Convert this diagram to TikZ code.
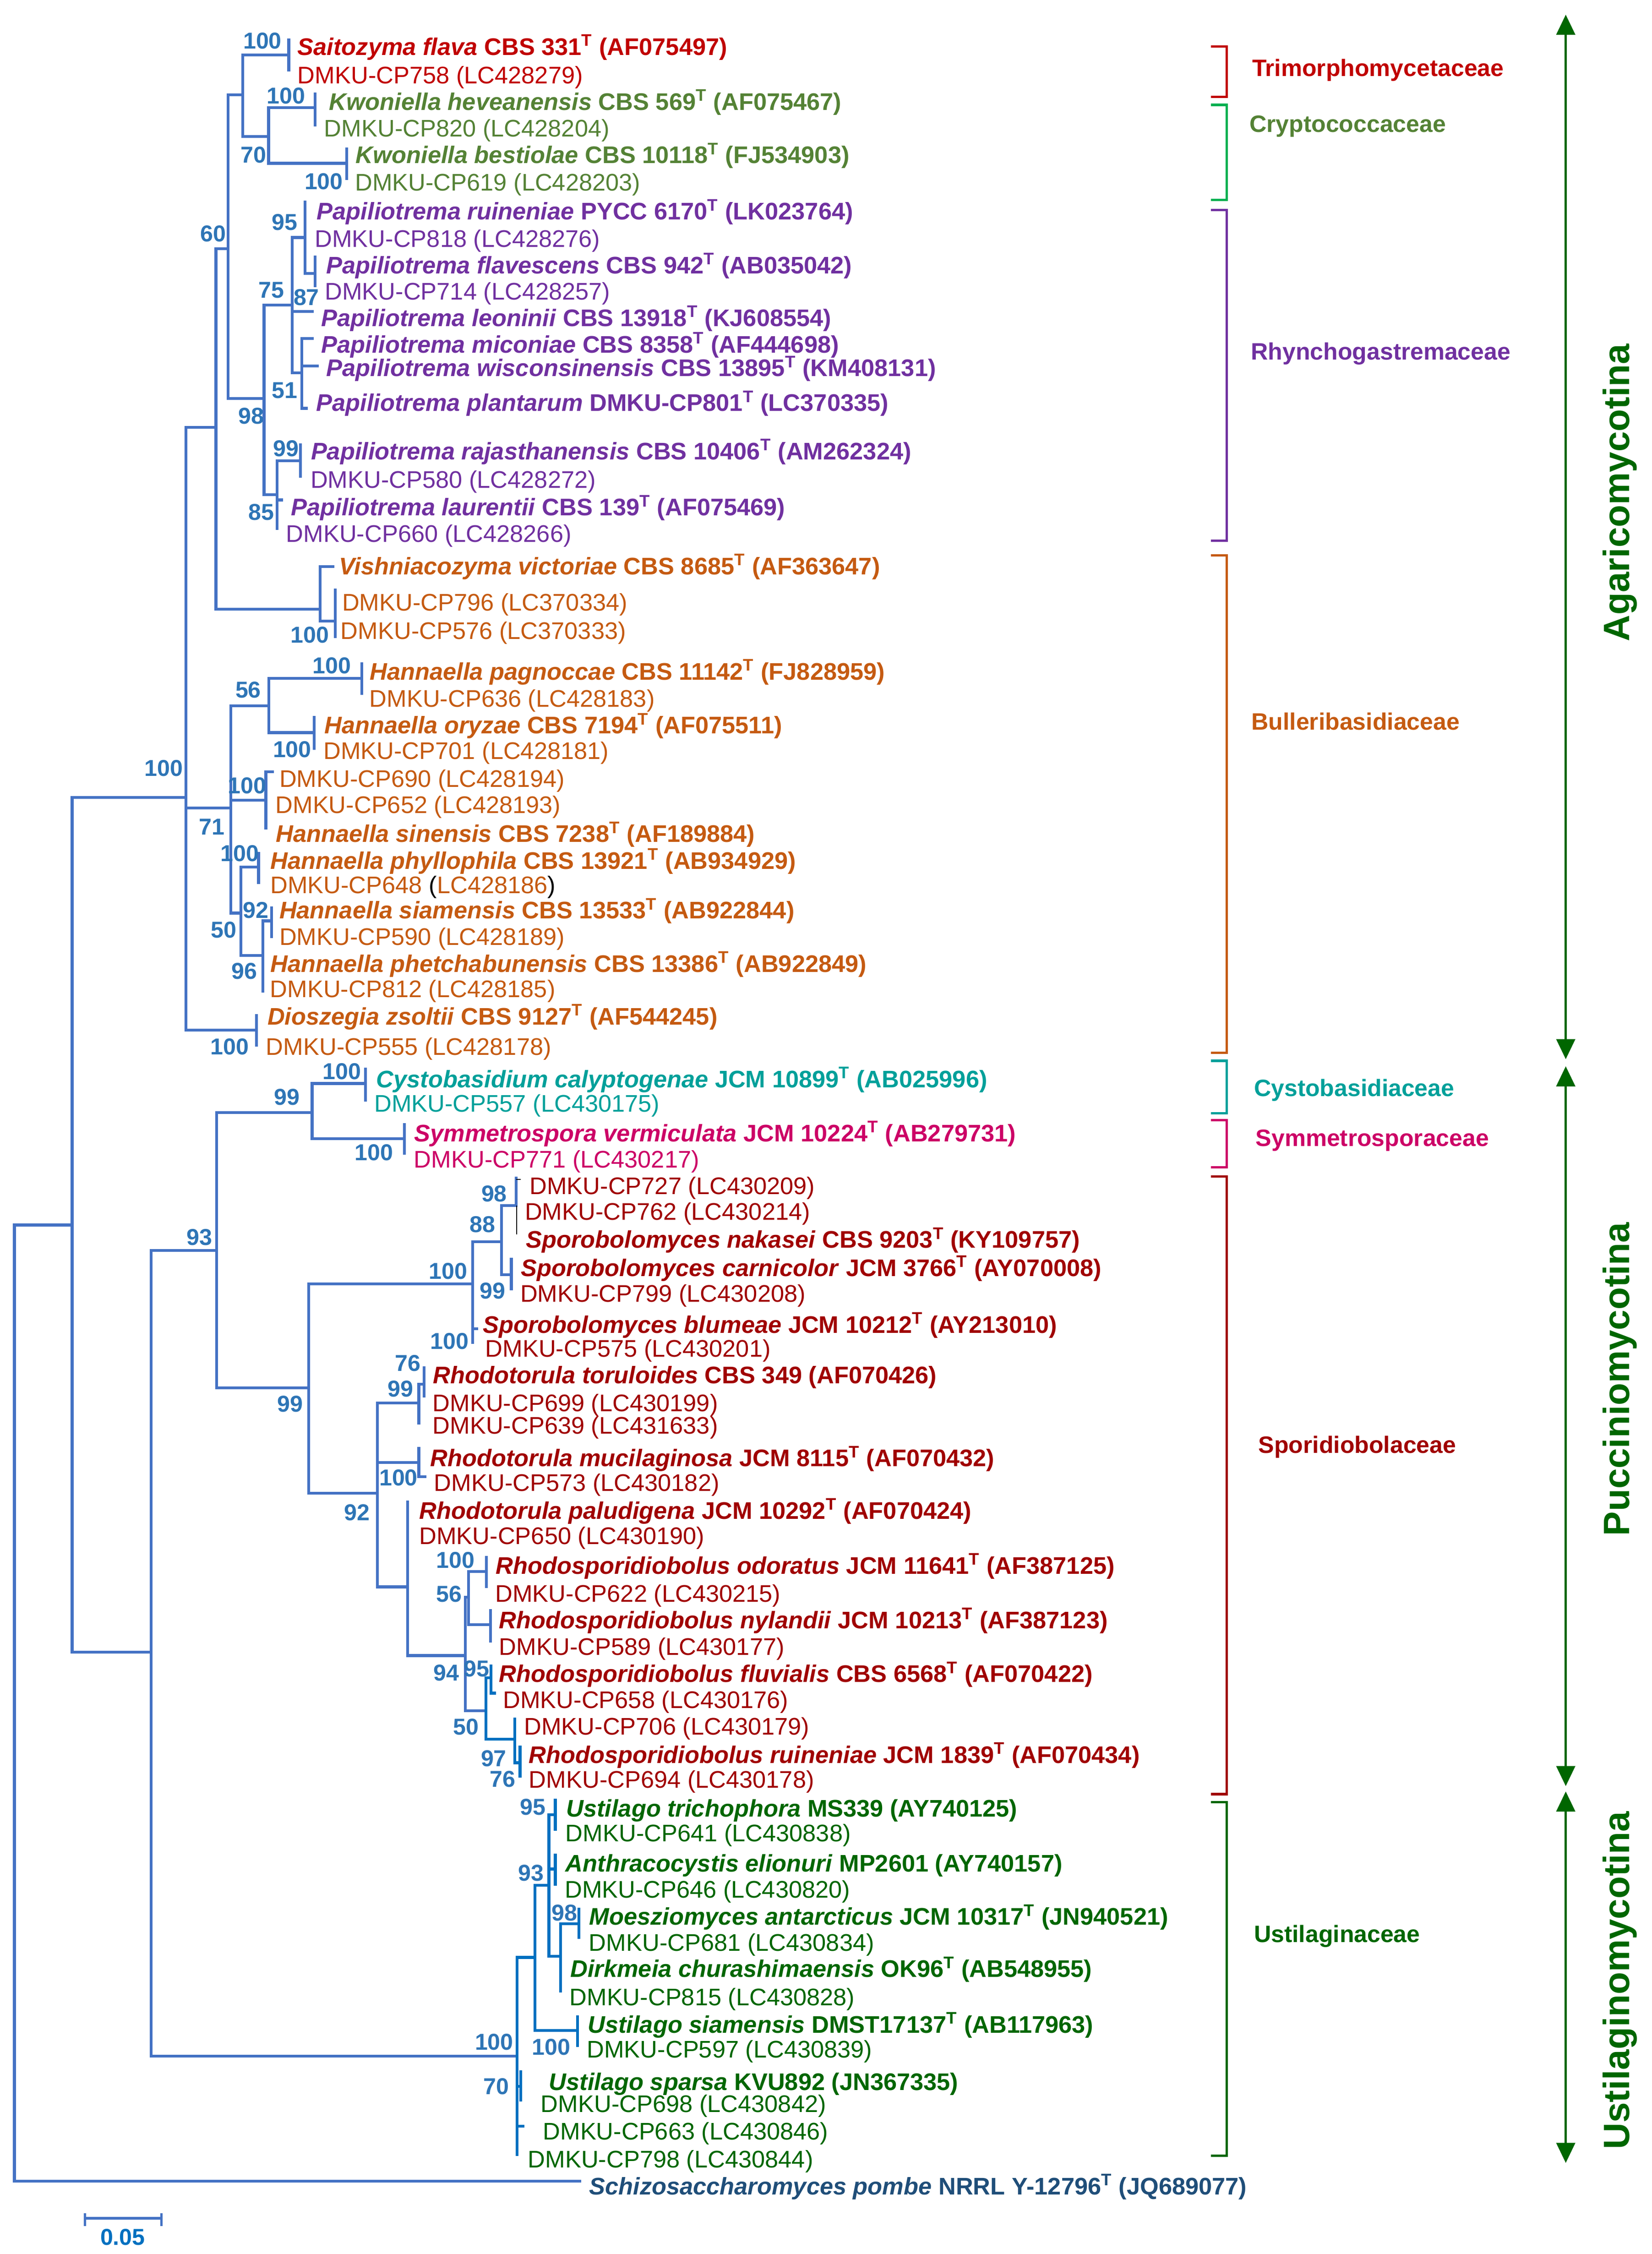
\documentclass[tikz,border=0pt]{standalone}
\usepackage{fontspec}
\setmainfont{Liberation Sans}
\usetikzlibrary{arrows.meta}
\definecolor{tree}{HTML}{4472C4}
\definecolor{treeB}{HTML}{0070C0}
\definecolor{boot}{HTML}{2E75B6}
\definecolor{cTri}{HTML}{C00000}
\definecolor{cCryT}{HTML}{548235}
\definecolor{cCryB}{HTML}{00B050}
\definecolor{cRhy}{HTML}{7030A0}
\definecolor{cBul}{HTML}{C55A11}
\definecolor{cCys}{HTML}{00A09A}
\definecolor{cSym}{HTML}{CC0066}
\definecolor{cSpo}{HTML}{A00000}
\definecolor{cUst}{HTML}{006600}
\definecolor{cSch}{HTML}{1F4E79}
\newcounter{lab}
\newcommand\Boot[3]{\stepcounter{lab}\node[bs] (b\thelab) at (#1,#2) {#3};}
\newcommand\TaxB[5]{\stepcounter{lab}\node[lb,text=#3] (t\thelab) at (#1,#2+6) {\textbf{\textit{#4}} \textbf{#5}};}
\newcommand\TaxN[4]{\stepcounter{lab}\node[lb,text=#3] (t\thelab) at (#1,#2+6) {#4};}
\newcommand\Hseg[3]{\draw[br] (#2,#1) -- (#3,#1);}
\newcommand\Vseg[3]{\draw[br] (#1,#2) -- (#1,#3);}
\newcommand\Brk[3]{\draw[brk,draw=#1] (843,#2) -- (854,#2) -- (854,#3) -- (843,#3);}
\newcommand\Tsup{\textsuperscript{T}}
\begin{document}
\begin{tikzpicture}[x=1pt,y=-1pt,
  br/.style={draw=tree,line width=2pt,line cap=rect},
  brk/.style={line width=1.7pt},
  lb/.style={anchor=base west,inner sep=0pt,font=\fontsize{16.7}{19}\selectfont},
  bs/.style={anchor=center,inner sep=0pt,text=boot,font=\bfseries\fontsize{16}{18}\selectfont},
  fam/.style={anchor=base west,inner sep=0pt,font=\bfseries\fontsize{16.5}{19}\selectfont},
  rot/.style={rotate=90,anchor=center,inner sep=0pt,text=cUst,font=\bfseries\fontsize{25.5}{28}\selectfont},
  arr/.style={draw=cUst,line width=1.7pt,{Triangle[width=13pt,length=14pt]}-{Triangle[width=13pt,length=14pt]}}]
\useasboundingbox[fill=white] (0,0) rectangle (1150,1569);

% ---------------- tree: root ----------------
\Vseg{10}{852.7}{1518.4}
\Hseg{852.7}{10}{50.2}
\Hseg{1518.4}{10}{403.7}
\Vseg{50.2}{555.1}{1150}
\Hseg{1150}{50.2}{105.2}
\Hseg{555.1}{50.2}{129.5}
% ---------------- Agaricomycotina ----------------
\Vseg{129.5}{297.4}{717}
\Hseg{297.4}{129.5}{150.3}
\Hseg{562.4}{129.5}{160.7}
\Hseg{717}{129.5}{178.6}
\Vseg{178.6}{706.8}{727.6}
\Vseg{150.3}{173.2}{424}
\Hseg{173.2}{150.3}{158.8}
\Hseg{424}{150.3}{222.8}
\Vseg{158.8}{66}{277.4}
\Hseg{66}{158.8}{169}
\Hseg{277.4}{158.8}{183.8}
\Vseg{169}{38.3}{94.9}
\Hseg{38.3}{169}{201}
\Hseg{94.9}{169}{187}
\Vseg{201}{27.8}{48.7}
\Vseg{187}{75}{113.7}
\Hseg{75}{187}{219.4}
\Hseg{113.7}{187}{241.4}
\Vseg{219.4}{65.5}{87}
\Vseg{241.4}{103.8}{124.3}
\Vseg{183.8}{212.4}{344.4}
\Hseg{212.4}{183.8}{203.5}
\Hseg{344.4}{183.8}{193}
\Vseg{203.5}{165.3}{259.6}
\Hseg{165.3}{203.5}{212.3}
\Hseg{216.7}{203.5}{217.3}
\Hseg{259.6}{203.5}{210.2}
\Vseg{212.3}{140.8}{190.4}
\Hseg{190.4}{212.3}{219.4}
\Vseg{219.4}{179}{199}
\Vseg{210.2}{235.7}{284.2}
\Hseg{235.7}{210.2}{217.3}
\Hseg{254.7}{210.2}{220.8}
\Hseg{284.2}{210.2}{213.4}
\Vseg{193}{320.8}{368}
\Hseg{320.8}{193}{209.2}
\Hseg{348}{193}{196}
\Vseg{209.2}{309.5}{331.5}
\Vseg{222.8}{394.5}{432.3}
\Hseg{394.5}{222.8}{231.8}
\Hseg{432.3}{222.8}{233.4}
\Vseg{233.4}{410.6}{443.2}
\Vseg{160.7}{491.3}{635.6}
\Hseg{491.3}{160.7}{187.2}
\Hseg{557}{160.7}{185.1}
\Hseg{635.6}{160.7}{167.8}
\Vseg{187.2}{472.1}{510}
\Hseg{472.1}{187.2}{251.9}
\Hseg{510}{187.2}{218.7}
\Vseg{251.9}{461.9}{482.7}
\Vseg{218.7}{499.4}{521}
\Vseg{185.1}{537.2}{576.3}
\Hseg{537.2}{185.1}{189.6}
\Vseg{167.8}{603.6}{665}
\Hseg{603.6}{167.8}{180}
\Hseg{665}{167.8}{183}
\Vseg{180}{594}{614.5}
\Vseg{183}{641}{689.8}
\Hseg{641}{183}{189}
\Vseg{189}{632}{652}
% ---------------- Pucciniomycotina ----------------
\Vseg{105.2}{870.5}{1431.3}
\Hseg{870.5}{105.2}{150.7}
\Hseg{1431.3}{105.2}{359.9}
\Vseg{150.7}{774.4}{966}
\Hseg{774.4}{150.7}{217.3}
\Hseg{966}{150.7}{214.8}
\Vseg{217.3}{754.2}{792.6}
\Hseg{754.2}{217.3}{254.4}
\Hseg{792.6}{217.3}{281.6}
\Vseg{254.4}{744.3}{765.9}
\Vseg{281.6}{782.8}{802.9}
\Vseg{214.8}{893.7}{1039.3}
\Hseg{893.7}{214.8}{329}
\Hseg{1039.3}{214.8}{262.7}
\Vseg{329}{864.4}{934.4}
\Hseg{864.4}{329}{349.1}
\Hseg{925}{329}{332}
\Vseg{349.1}{839.2}{887.2}
\Hseg{839.2}{349.1}{359.4}
\Hseg{887.2}{349.1}{356}
\Vseg{359.4}{820}{839.2}
\draw[black,line width=0.8pt] (359.6,839.2) -- (359.6,859.4);
\draw[black,line width=0.8pt] (359.4,821) -- (362.5,821);
\Vseg{356}{876.6}{897}
\Vseg{262.7}{976.7}{1104.6}
\Hseg{976.7}{262.7}{291.6}
\Hseg{1018.1}{262.7}{291.6}
\Hseg{1104.6}{262.7}{283.8}
\Vseg{291.6}{963.6}{990.6}
\Hseg{963.6}{291.6}{295.3}
\Vseg{295.3}{952.2}{971.8}
\Vseg{291.6}{1008.3}{1027.9}
\Hseg{1027.9}{291.6}{295.8}
\Vseg{283.8}{1045.6}{1152.4}
\Hseg{1152.4}{283.8}{323.9}
\Vseg{323.9}{1111.8}{1190.8}
\Hseg{1111.8}{323.9}{326.2}
\Hseg{1190.8}{323.9}{338.2}
\Vseg{326.2}{1094}{1131}
\Hseg{1094}{326.2}{338.6}
\Hseg{1131}{326.2}{341.5}
\Vseg{338.6}{1084}{1104.4}
\Vseg{341.5}{1121}{1142.4}
\begin{scope}[br/.append style={draw=treeB}]
\Vseg{338.2}{1168}{1210.7}
\Hseg{1168}{338.2}{341.8}
\Vseg{341.8}{1159.5}{1178.6}
\Hseg{1178.6}{341.8}{344.2}
\Hseg{1210.7}{338.2}{358.3}
\Vseg{358.3}{1196.5}{1227}
\Hseg{1227}{358.3}{362}
\Vseg{362}{1216}{1236.3}
% ---------------- Ustilaginomycotina ----------------
\Vseg{359.9}{1362.5}{1499.8}
\Hseg{1362.5}{359.9}{372.4}
\Hseg{1452.4}{359.9}{362.4}
\Hseg{1480}{359.9}{364}
\Vseg{362.4}{1442}{1461.8}
\Vseg{372.4}{1312.4}{1413.5}
\Hseg{1312.4}{372.4}{382.1}
\Hseg{1413.5}{372.4}{402}
\Vseg{402}{1404}{1423.8}
\Vseg{382.1}{1263.2}{1361.7}
\Hseg{1263.2}{382.1}{386.6}
\Hseg{1301}{382.1}{386.6}
\Hseg{1361.7}{382.1}{390.2}
\Vseg{386.6}{1253.2}{1273.5}
\Vseg{386.6}{1291.3}{1311.5}
\Vseg{390.2}{1339.2}{1385.8}
\Hseg{1339.2}{390.2}{403}
\Vseg{403}{1328.8}{1348.6}
\end{scope}

% ---------------- scale bar ----------------
\draw[draw=tree,line width=1.9pt] (59.2,1544) -- (112.5,1544);
\draw[draw=tree,line width=1.5pt] (59.2,1540.5) -- (59.2,1549.5);
\draw[draw=tree,line width=1.5pt] (112.5,1540.5) -- (112.5,1549.5);
\node[bs,text=treeB] (sb) at (85.4,1557.2) {0.05};

% ---------------- taxa ----------------
\TaxB{207}{32.4}{cTri}{Saitozyma flava}{CBS 331\Tsup{} (AF075497)}
\TaxN{207}{52.2}{cTri}{DMKU-CP758 (LC428279)}
\TaxB{229}{70.7}{cCryT}{Kwoniella heveanensis}{CBS 569\Tsup{} (AF075467)}
\TaxN{225.5}{89.2}{cCryT}{DMKU-CP820 (LC428204)}
\TaxB{247.5}{107.8}{cCryT}{Kwoniella bestiolae}{CBS 10118\Tsup{} (FJ534903)}
\TaxN{247}{126.9}{cCryT}{DMKU-CP619 (LC428203)}
\TaxB{220.4}{147}{cRhy}{Papiliotrema ruineniae}{PYCC 6170\Tsup{} (LK023764)}
\TaxN{219}{165.9}{cRhy}{DMKU-CP818 (LC428276)}
\TaxB{227}{184.4}{cRhy}{Papiliotrema flavescens}{CBS 942\Tsup{} (AB035042)}
\TaxN{226}{202.7}{cRhy}{DMKU-CP714 (LC428257)}
\TaxB{223.5}{221.2}{cRhy}{Papiliotrema leoninii}{CBS 13918\Tsup{} (KJ608554)}
\TaxB{223.5}{239.7}{cRhy}{Papiliotrema miconiae}{CBS 8358\Tsup{} (AF444698)}
\TaxB{227}{256}{cRhy}{Papiliotrema wisconsinensis}{CBS 13895\Tsup{} (KM408131)}
\TaxB{220}{280.3}{cRhy}{Papiliotrema plantarum}{DMKU-CP801\Tsup{} (LC370335)}
\TaxB{216.3}{314}{cRhy}{Papiliotrema rajasthanensis}{CBS 10406\Tsup{} (AM262324)}
\TaxN{216}{333.6}{cRhy}{DMKU-CP580 (LC428272)}
\TaxB{202.5}{352.9}{cRhy}{Papiliotrema laurentii}{CBS 139\Tsup{} (AF075469)}
\TaxN{199}{371.4}{cRhy}{DMKU-CP660 (LC428266)}
\TaxB{236}{394}{cBul}{Vishniacozyma victoriae}{CBS 8685\Tsup{} (AF363647)}
\TaxN{238}{419.3}{cBul}{DMKU-CP796 (LC370334)}
\TaxN{237}{438.8}{cBul}{DMKU-CP576 (LC370333)}
\TaxB{257.3}{467.2}{cBul}{Hannaella pagnoccae}{CBS 11142\Tsup{} (FJ828959)}
\TaxN{257}{486}{cBul}{DMKU-CP636 (LC428183)}
\TaxB{225.7}{504.7}{cBul}{Hannaella oryzae}{CBS 7194\Tsup{} (AF075511)}
\TaxN{225}{522.6}{cBul}{DMKU-CP701 (LC428181)}
\TaxN{194.3}{542}{cBul}{DMKU-CP690 (LC428194)}
\TaxN{191.6}{560}{cBul}{DMKU-CP652 (LC428193)}
\TaxB{191.9}{580.3}{cBul}{Hannaella sinensis}{CBS 7238\Tsup{} (AF189884)}
\TaxB{188}{599}{cBul}{Hannaella phyllophila}{CBS 13921\Tsup{} (AB934929)}
\TaxN{188}{616}{cBul}{DMKU-CP648 \textcolor{black}{(}LC428186\textcolor{black}{)}}
\TaxB{194.3}{633.5}{cBul}{Hannaella siamensis}{CBS 13533\Tsup{} (AB922844)}
\TaxN{194.3}{652}{cBul}{DMKU-CP590 (LC428189)}
\TaxB{188}{670.7}{cBul}{Hannaella phetchabunensis}{CBS 13386\Tsup{} (AB922849)}
\TaxN{187.8}{688.3}{cBul}{DMKU-CP812 (LC428185)}
\TaxB{186}{707.3}{cBul}{Dioszegia zsoltii}{CBS 9127\Tsup{} (AF544245)}
\TaxN{185}{728.5}{cBul}{DMKU-CP555 (LC428178)}
\TaxB{261.8}{751}{cCys}{Cystobasidium calyptogenae}{JCM 10899\Tsup{} (AB025996)}
\TaxN{260.4}{768}{cCys}{DMKU-CP557 (LC430175)}
\TaxB{288.2}{788.6}{cSym}{Symmetrospora vermiculata}{JCM 10224\Tsup{} (AB279731)}
\TaxN{288}{807}{cSym}{DMKU-CP771 (LC430217)}
\TaxN{368.5}{825.3}{cSpo}{DMKU-CP727 (LC430209)}
\TaxN{365.2}{843.2}{cSpo}{DMKU-CP762 (LC430214)}
\TaxB{365.9}{862.8}{cSpo}{Sporobolomyces nakasei}{CBS 9203\Tsup{} (KY109757)}
\TaxB{362.5}{882.3}{cSpo}{Sporobolomyces carnicolor}{JCM 3766\Tsup{} (AY070008)}
\TaxN{362}{900.2}{cSpo}{DMKU-CP799 (LC430208)}
\TaxB{336}{922}{cSpo}{Sporobolomyces blumeae}{JCM 10212\Tsup{} (AY213010)}
\TaxN{337.7}{938.4}{cSpo}{DMKU-CP575 (LC430201)}
\TaxB{301.2}{957}{cSpo}{Rhodotorula toruloides}{CBS 349 (AF070426)}
\TaxN{301}{976.5}{cSpo}{DMKU-CP699 (LC430199)}
\TaxN{301}{992}{cSpo}{DMKU-CP639 (LC431633)}
\TaxB{299.3}{1014.9}{cSpo}{Rhodotorula mucilaginosa}{JCM 8115\Tsup{} (AF070432)}
\TaxN{302}{1032}{cSpo}{DMKU-CP573 (LC430182)}
\TaxB{291.7}{1051.3}{cSpo}{Rhodotorula paludigena}{JCM 10292\Tsup{} (AF070424)}
\TaxN{291.7}{1069}{cSpo}{DMKU-CP650 (LC430190)}
\TaxB{345}{1089.7}{cSpo}{Rhodosporidiobolus odoratus}{JCM 11641\Tsup{} (AF387125)}
\TaxN{344.6}{1109}{cSpo}{DMKU-CP622 (LC430215)}
\TaxB{347.3}{1127.5}{cSpo}{Rhodosporidiobolus nylandii}{JCM 10213\Tsup{} (AF387123)}
\TaxN{347.3}{1146}{cSpo}{DMKU-CP589 (LC430177)}
\TaxB{347.3}{1165}{cSpo}{Rhodosporidiobolus fluvialis}{CBS 6568\Tsup{} (AF070422)}
\TaxN{350}{1183}{cSpo}{DMKU-CP658 (LC430176)}
\TaxN{364.7}{1201.5}{cSpo}{DMKU-CP706 (LC430179)}
\TaxB{368}{1221.4}{cSpo}{Rhodosporidiobolus ruineniae}{JCM 1839\Tsup{} (AF070434)}
\TaxN{368}{1238.5}{cSpo}{DMKU-CP694 (LC430178)}
\TaxB{394}{1258.8}{cUst}{Ustilago trichophora}{MS339 (AY740125)}
\TaxN{393.5}{1276}{cUst}{DMKU-CP641 (LC430838)}
\TaxB{393.5}{1296.8}{cUst}{Anthracocystis elionuri}{MP2601 (AY740157)}
\TaxN{393}{1315}{cUst}{DMKU-CP646 (LC430820)}
\TaxB{410}{1334}{cUst}{Moesziomyces antarcticus}{JCM 10317\Tsup{} (JN940521)}
\TaxN{409.8}{1352}{cUst}{DMKU-CP681 (LC430834)}
\TaxB{396.9}{1370.3}{cUst}{Dirkmeia churashimaensis}{OK96\Tsup{} (AB548955)}
\TaxN{396.3}{1390}{cUst}{DMKU-CP815 (LC430828)}
\TaxB{409}{1409}{cUst}{Ustilago siamensis}{DMST17137\Tsup{} (AB117963)}
\TaxN{408.4}{1426.4}{cUst}{DMKU-CP597 (LC430839)}
\TaxB{382}{1449}{cUst}{Ustilago sparsa}{KVU892 (JN367335)}
\TaxN{376.3}{1464.4}{cUst}{DMKU-CP698 (LC430842)}
\TaxN{377.8}{1483.5}{cUst}{DMKU-CP663 (LC430846)}
\TaxN{367.3}{1503}{cUst}{DMKU-CP798 (LC430844)}
\TaxB{410}{1521.6}{cSch}{Schizosaccharomyces pombe}{NRRL Y-12796\Tsup{} (JQ689077)}

% ---------------- bootstrap values ----------------
\Boot{182.7}{28.4}{100}
\Boot{199}{66.8}{100}
\Boot{176.6}{107.7}{70}
\Boot{225.4}{126.3}{100}
\Boot{148.3}{162.6}{60}
\Boot{198}{154.7}{95}
\Boot{188.8}{202}{75}
\Boot{213.3}{207}{87}
\Boot{198}{271.7}{51}
\Boot{174.8}{289.6}{98}
\Boot{199}{312.3}{99}
\Boot{181.8}{356.5}{85}
\Boot{215.6}{442}{100}
\Boot{230.9}{463.2}{100}
\Boot{172.8}{480.2}{56}
\Boot{203.4}{521.7}{100}
\Boot{114}{534.8}{100}
\Boot{171.9}{547}{100}
\Boot{147.5}{575.5}{71}
\Boot{166.8}{594}{100}
\Boot{178}{633.5}{92}
\Boot{155.6}{647.3}{50}
\Boot{170}{676}{96}
\Boot{159.8}{728.6}{100}
\Boot{238}{745.8}{100}
\Boot{199.6}{763.7}{99}
\Boot{260.4}{802.2}{100}
\Boot{344}{831}{98}
\Boot{336}{852.2}{88}
\Boot{138.8}{861.3}{93}
\Boot{312}{884.7}{100}
\Boot{342.8}{898.6}{99}
\Boot{313}{933.5}{100}
\Boot{283.8}{949}{76}
\Boot{278.8}{966.8}{99}
\Boot{202}{977.4}{99}
\Boot{277.4}{1028.7}{100}
\Boot{248.4}{1053}{92}
\Boot{317}{1086}{100}
\Boot{312.5}{1109.7}{56}
\Boot{310.6}{1164.5}{94}
\Boot{331.6}{1161.6}{95}
\Boot{324.4}{1202.2}{50}
\Boot{343.7}{1224.2}{97}
\Boot{350}{1238.5}{76}
\Boot{371}{1258}{95}
\Boot{369.6}{1303.7}{93}
\Boot{393}{1331.4}{98}
\Boot{344}{1421.3}{100}
\Boot{383.8}{1424.8}{100}
\Boot{345.4}{1452.4}{70}

% ---------------- family brackets ----------------
\Brk{cTri}{32.3}{67.4}
\Brk{cCryB}{73}{139.1}
\Brk{cRhy}{146.2}{376.3}
\Brk{cBul}{386.5}{732.8}
\Brk{cCys}{738.4}{774.9}
\Brk{cSym}{779.8}{812.5}
\Brk{cSpo}{818.9}{1248.9}
\Brk{cUst}{1254.5}{1500.5}
\node[fam,text=cTri] (f1) at (871.5,53) {Trimorphomycetaceae};
\node[fam,text=cCryT] (f2) at (869.7,91.9) {Cryptococcaceae};
\node[fam,text=cRhy] (f3) at (870.7,250.6) {Rhynchogastremaceae};
\node[fam,text=cBul] (f4) at (871,508) {Bulleribasidiaceae};
\node[fam,text=cCys] (f5) at (872.8,763.2) {Cystobasidiaceae};
\node[fam,text=cSym] (f6) at (874,797.8) {Symmetrosporaceae};
\node[fam,text=cSpo] (f7) at (875.9,1011.4) {Sporidiobolaceae};
\node[fam,text=cUst] (f8) at (872.8,1352) {Ustilaginaceae};

% ---------------- subphyla ----------------
\coordinate (a1t) at (1090,10.2);
\coordinate (a1b) at (1090,737.3);
\coordinate (a2t) at (1090,742.2);
\coordinate (a2b) at (1090,1243.3);
\coordinate (a3t) at (1090,1247);
\coordinate (a3b) at (1090,1505.6);
\draw[arr] (a1t) -- (a1b);
\draw[arr] (a2t) -- (a2b);
\draw[arr] (a3t) -- (a3b);
\node[rot] (s1) at (1127.7,343) {Agaricomycotina};
\node[rot] (s2) at (1127.7,960) {Pucciniomycotina};
\node[rot] (s3) at (1127.7,1378.5) {Ustilaginomycotina};
\end{tikzpicture}
\end{document}
